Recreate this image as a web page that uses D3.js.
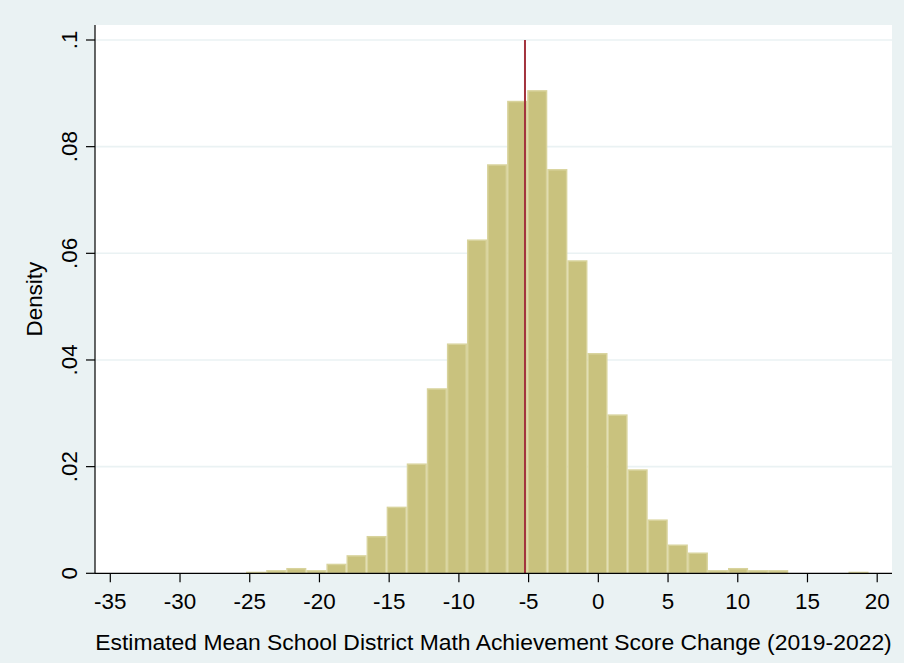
<!DOCTYPE html>
<html>
<head>
<meta charset="utf-8">
<script src="https://cdn.jsdelivr.net/npm/d3@7/dist/d3.min.js"></script>
<style>
  html, body { margin: 0; padding: 0; background: #eaf2f3; }
  svg { display: block; }
  text { font-family: "Liberation Sans", Arial, Helvetica, sans-serif; fill: #000; }
</style>
</head>
<body>
<svg id="chart" width="904" height="663"></svg>
<script>
// ---- Data ----
const binStart = -25.26;     // left edge of the first bin
const binWidth = 1.44;       // histogram bin width
const densities = [
  0.0003, 0.0006, 0.0010, 0.0006, 0.0018, 0.0034, 0.0070, 0.0125,
  0.0206, 0.0347, 0.0431, 0.0626, 0.0767, 0.0886, 0.0906, 0.0758,
  0.0587, 0.0413, 0.0298, 0.0195, 0.0101, 0.0054, 0.0039, 0.0006,
  0.0010, 0.0006, 0.0006, 0, 0, 0, 0.0003
];
const meanValue = -5.26;
const xTicks = [-35, -30, -25, -20, -15, -10, -5, 0, 5, 10, 15, 20];
const yTicks = [0, 0.02, 0.04, 0.06, 0.08, 0.1];
const yTickLabels = ["0", ".02", ".04", ".06", ".08", ".1"];
const xTitle = "Estimated Mean School District Math Achievement Score Change (2019-2022)";
const yTitle = "Density";

// ---- Layout ----
const plot = { left: 95, right: 892, top: 25, bottom: 573.3 };
const svg = d3.select("#chart");

const x = d3.scaleLinear().domain([-35, 20]).range([110.3, 877.2]);
const y = d3.scaleLinear().domain([0, 0.1]).range([573.3, 40]);

// Background
svg.append("rect").attr("x", 0).attr("y", 0).attr("width", 904).attr("height", 663).attr("fill", "#eaf2f3");
svg.append("rect").attr("x", plot.left).attr("y", plot.top)
  .attr("width", plot.right - plot.left).attr("height", plot.bottom - plot.top)
  .attr("fill", "#ffffff");

// Gridlines
svg.append("g").selectAll("line").data(yTicks.filter(d => d > 0)).join("line")
  .attr("x1", plot.left).attr("x2", plot.right)
  .attr("y1", d => y(d)).attr("y2", d => y(d))
  .attr("stroke", "#eaf2f3").attr("stroke-width", 1.6);

// Bars
const bins = densities.map((d, i) => ({ x0: binStart + i * binWidth, x1: binStart + (i + 1) * binWidth, d }));
svg.append("g").selectAll("rect").data(bins.filter(b => b.d > 0)).join("rect")
  .attr("x", b => x(b.x0) + 0.75)
  .attr("width", b => x(b.x1) - x(b.x0) - 1.5)
  .attr("y", b => y(b.d) + 0.75)
  .attr("height", b => Math.max(0, y(0) - y(b.d) - 0.75))
  .attr("fill", "#c9c27e")
  .attr("stroke", "#d8d39c")
  .attr("stroke-width", 1.5);

// Mean line
svg.append("line")
  .attr("x1", x(meanValue)).attr("x2", x(meanValue))
  .attr("y1", y(0.1)).attr("y2", y(0))
  .attr("stroke", "#a3333d").attr("stroke-width", 2);

// Axes
const yAxis = svg.append("g");
yAxis.append("line").attr("x1", plot.left).attr("x2", plot.left)
  .attr("y1", plot.top).attr("y2", plot.bottom).attr("stroke", "#000").attr("stroke-width", 1.2);
yAxis.selectAll("line.tick").data(yTicks).join("line").attr("class", "tick")
  .attr("x1", plot.left - 9).attr("x2", plot.left)
  .attr("y1", d => y(d)).attr("y2", d => y(d))
  .attr("stroke", "#000").attr("stroke-width", 1.2);
yAxis.selectAll("text").data(yTicks).join("text")
  .attr("transform", d => `translate(77,${y(d)}) rotate(-90)`)
  .attr("text-anchor", "middle")
  .attr("font-size", 22.4)
  .text((d, i) => yTickLabels[i]);

const xAxis = svg.append("g");
xAxis.append("line").attr("x1", plot.left).attr("x2", plot.right)
  .attr("y1", plot.bottom).attr("y2", plot.bottom).attr("stroke", "#000").attr("stroke-width", 1.2);
xAxis.selectAll("line.tick").data(xTicks).join("line").attr("class", "tick")
  .attr("x1", d => x(d)).attr("x2", d => x(d))
  .attr("y1", plot.bottom).attr("y2", plot.bottom + 9)
  .attr("stroke", "#000").attr("stroke-width", 1.2);
xAxis.selectAll("text").data(xTicks).join("text")
  .attr("x", d => x(d)).attr("y", 609)
  .attr("text-anchor", "middle")
  .attr("font-size", 22.4)
  .text(d => d);

// Axis titles
svg.append("text")
  .attr("x", (plot.left + plot.right) / 2).attr("y", 650)
  .attr("text-anchor", "middle").attr("font-size", 22.9)
  .text(xTitle);
svg.append("text")
  .attr("transform", `translate(42,${(plot.top + plot.bottom) / 2}) rotate(-90)`)
  .attr("text-anchor", "middle").attr("font-size", 22.4)
  .text(yTitle);
</script>
</body>
</html>
